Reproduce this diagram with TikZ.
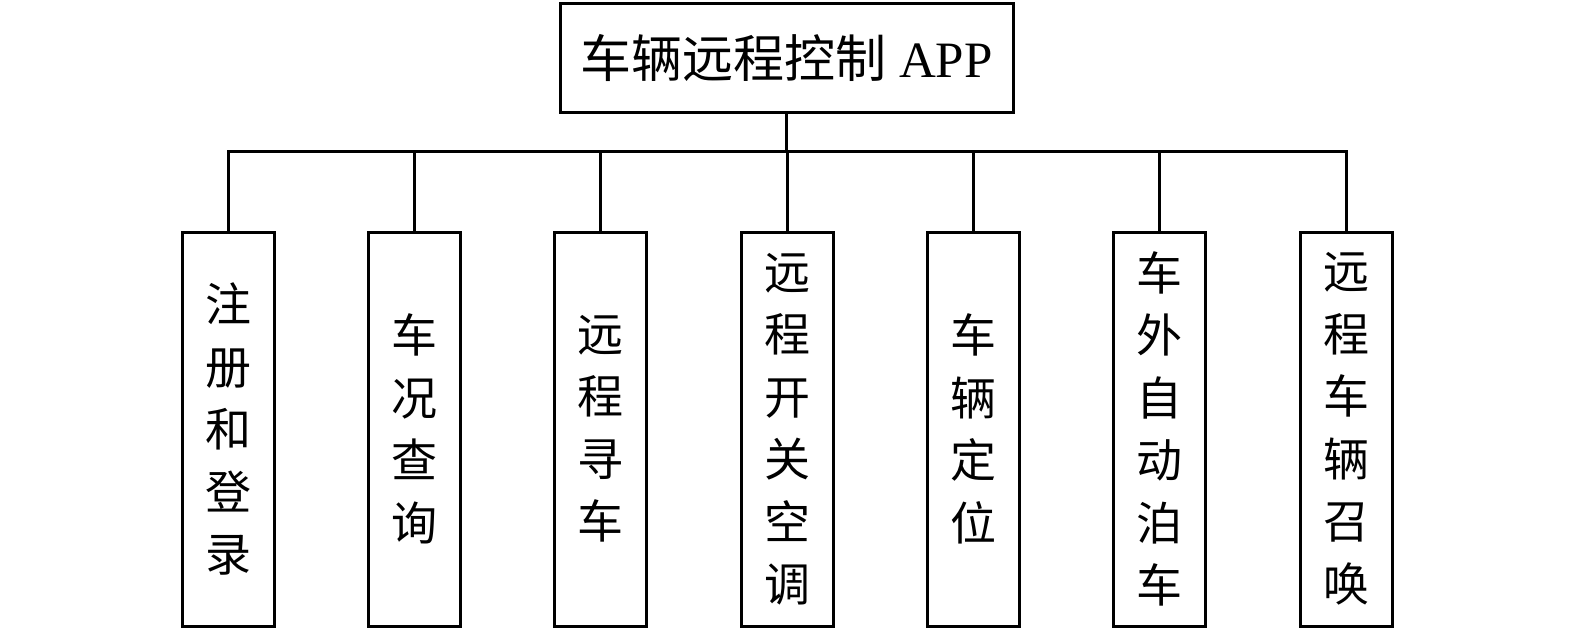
\documentclass[tikz,border=0pt]{standalone}
\usepackage{fontspec}
\setmainfont{Liberation Serif}
\newfontfamily\cjk{Noto Sans CJK SC}
\begin{document}
\begin{tikzpicture}[x=1pt,y=-1pt,
  line width=3pt,
  topbox/.style={draw, rectangle, minimum width=453pt, minimum height=109pt, inner sep=0pt, anchor=center},
  leafbox/.style={draw, rectangle, minimum width=92pt, minimum height=394pt, inner sep=0pt, align=center,
    font=\cjk\fontsize{46}{62.5}\selectfont},
  link/.style={line width=3pt}]
\useasboundingbox (0,0) rectangle (1575,630);
\node[topbox, font=\fontsize{51}{60}\selectfont] (root) at (786.5,57.5) {\raisebox{2pt}{{\cjk 车辆远程控制}\ APP}};
\coordinate (bus) at (786.5,151);
\node[leafbox] (c1) at (228,429) {注\\册\\和\\登\\录};
\node[leafbox] (c2) at (414,429) {车\\况\\查\\询};
\node[leafbox] (c3) at (600,429) {远\\程\\寻\\车};
\node[leafbox] (c4) at (787,429) {远\\程\\开\\关\\空\\调};
\node[leafbox] (c5) at (973,429) {车\\辆\\定\\位};
\node[leafbox] (c6) at (1159,429) {车\\外\\自\\动\\泊\\车};
\node[leafbox] (c7) at (1346,429) {远\\程\\车\\辆\\召\\唤};
\draw[link] (root.south) -- (bus);
\draw[link] (c1.north) -- (c1.north |- bus) -- (c7.north |- bus) -- (c7.north);
\foreach \n in {c2,c3,c4,c5,c6}{
  \draw[link] (\n.north) -- (\n.north |- bus);
}
\end{tikzpicture}
\end{document}
